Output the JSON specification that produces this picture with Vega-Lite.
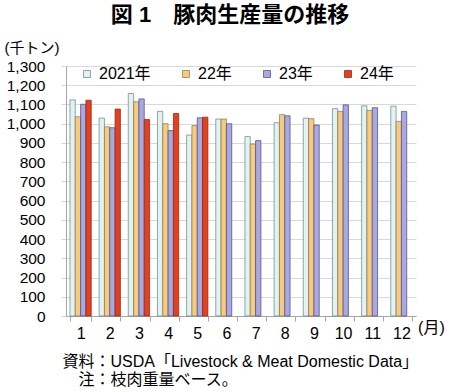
{
  "$schema": "https://vega.github.io/schema/vega-lite/v6.json",
  "width": 350,
  "height": 250,
  "autosize": {"type": "none"},
  "padding": {"left": 66, "top": 66, "right": 34, "bottom": 76},
  "background": "white",
  "config": {
    "font": "Liberation Sans, Noto Sans CJK JP",
    "view": {"stroke": null}
  },
  "title": {
    "text": "図 1　豚肉生産量の推移",
    "fontSize": 22,
    "fontWeight": "bold",
    "font": "Liberation Sans, Noto Sans CJK JP",
    "anchor": "middle",
    "dx": -11,
    "offset": 13,
    "color": "#000000"
  },
  "layer": [
    {
      "data": {
        "values": [
          {"month": "1", "year": "2021年", "value": 1124},
          {"month": "1", "year": "22年", "value": 1036},
          {"month": "1", "year": "23年", "value": 1101},
          {"month": "1", "year": "24年", "value": 1122},
          {"month": "2", "year": "2021年", "value": 1029},
          {"month": "2", "year": "22年", "value": 984},
          {"month": "2", "year": "23年", "value": 979},
          {"month": "2", "year": "24年", "value": 1076},
          {"month": "3", "year": "2021年", "value": 1157},
          {"month": "3", "year": "22年", "value": 1114},
          {"month": "3", "year": "23年", "value": 1129},
          {"month": "3", "year": "24年", "value": 1022},
          {"month": "4", "year": "2021年", "value": 1064},
          {"month": "4", "year": "22年", "value": 1000},
          {"month": "4", "year": "23年", "value": 964},
          {"month": "4", "year": "24年", "value": 1053},
          {"month": "5", "year": "2021年", "value": 941},
          {"month": "5", "year": "22年", "value": 990},
          {"month": "5", "year": "23年", "value": 1031},
          {"month": "5", "year": "24年", "value": 1034},
          {"month": "6", "year": "2021年", "value": 1024},
          {"month": "6", "year": "22年", "value": 1024},
          {"month": "6", "year": "23年", "value": 1000},
          {"month": "7", "year": "2021年", "value": 933},
          {"month": "7", "year": "22年", "value": 894},
          {"month": "7", "year": "23年", "value": 912},
          {"month": "8", "year": "2021年", "value": 1005},
          {"month": "8", "year": "22年", "value": 1047},
          {"month": "8", "year": "23年", "value": 1041},
          {"month": "9", "year": "2021年", "value": 1029},
          {"month": "9", "year": "22年", "value": 1026},
          {"month": "9", "year": "23年", "value": 993},
          {"month": "10", "year": "2021年", "value": 1078},
          {"month": "10", "year": "22年", "value": 1064},
          {"month": "10", "year": "23年", "value": 1098},
          {"month": "11", "year": "2021年", "value": 1093},
          {"month": "11", "year": "22年", "value": 1069},
          {"month": "11", "year": "23年", "value": 1083},
          {"month": "12", "year": "2021年", "value": 1091},
          {"month": "12", "year": "22年", "value": 1012},
          {"month": "12", "year": "23年", "value": 1064}
        ]
      },
      "mark": {"type": "bar", "strokeWidth": 0.7},
      "encoding": {
        "x": {
          "field": "month",
          "type": "nominal",
          "scale": {"domain": ["1","2","3","4","5","6","7","8","9","10","11","12"], "paddingInner": 0.27, "paddingOuter": 0.135},
          "axis": {
            "labelAngle": 0,
            "labelFontSize": 16,
            "labelColor": "#000000",
            "labelPadding": 4,
            "tickBand": "extent",
            "tickSize": 5,
            "tickColor": "#a6a6a6",
            "domainColor": "#a6a6a6",
            "grid": false,
            "title": ["資料：USDA「Livestock & Meat Domestic Data」", "\u200b\u3000注：枝肉重量ベース。"],
            "titleFontSize": 16,
            "titleFontWeight": "normal",
            "titleColor": "#000000",
            "titleAlign": "left",
            "titleAnchor": "start",
            "titleBaseline": "top",
            "titleX": -4,
            "titleY": 37,
            "titleLineHeight": 18
          }
        },
        "xOffset": {
          "field": "year",
          "type": "nominal",
          "scale": {"domain": ["2021年", "22年", "23年", "24年"], "paddingInner": 0, "paddingOuter": 0}
        },
        "y": {
          "field": "value",
          "type": "quantitative",
          "scale": {"domain": [0, 1300], "nice": false},
          "axis": {
            "values": [0,100,200,300,400,500,600,700,800,900,1000,1100,1200,1300],
            "format": ",d",
            "labelOverlap": false,
            "labelFontSize": 15.5,
            "labelColor": "#000000",
            "labelPadding": 16,
            "tickSize": 5,
            "tickColor": "#d9d9d9",
            "gridColor": "#d9d9d9",
            "domainColor": "#a6a6a6",
            "title": "(千トン)",
            "titleAngle": 0,
            "titleAlign": "left",
            "titleBaseline": "middle",
            "titleX": -62,
            "titleY": -19,
            "titleFontSize": 15,
            "titleFontWeight": "normal",
            "titleColor": "#000000"
          }
        },
        "fill": {
          "field": "year",
          "type": "nominal",
          "scale": {"domain": ["2021年", "22年", "23年", "24年"], "range": ["#e4f1f1", "#f7cb7e", "#a9a9de", "#e2401f"]},
          "legend": {
            "title": null,
            "orient": "none",
            "legendX": 13,
            "legendY": 0,
            "direction": "horizontal",
            "columns": 4,
            "gridAlign": "none",
            "columnPadding": 27,
            "symbolType": "square",
            "symbolSize": 49,
            "symbolStrokeWidth": 0.7,
            "labelFontSize": 16,
            "labelColor": "#000000",
            "labelOffset": 4
          }
        },
        "stroke": {
          "field": "year",
          "type": "nominal",
          "scale": {"domain": ["2021年", "22年", "23年", "24年"], "range": ["#5f8585", "#8a7450", "#45458c", "#8a1f0c"]},
          "legend": null
        }
      }
    },
    {
      "data": {"values": [{"month": "12", "label": "(月)"}]},
      "mark": {"type": "text", "dx": 30, "dy": 12, "fontSize": 16, "color": "#000000", "baseline": "middle"},
      "encoding": {
        "x": {
          "field": "month",
          "type": "nominal",
          "axis": {
            "labelAngle": 0,
            "labelFontSize": 16,
            "labelColor": "#000000",
            "labelPadding": 4,
            "tickBand": "extent",
            "tickSize": 5,
            "tickColor": "#a6a6a6",
            "domainColor": "#a6a6a6",
            "grid": false,
            "title": ["資料：USDA「Livestock & Meat Domestic Data」", "\u200b\u3000注：枝肉重量ベース。"],
            "titleFontSize": 16,
            "titleFontWeight": "normal",
            "titleColor": "#000000",
            "titleAlign": "left",
            "titleAnchor": "start",
            "titleBaseline": "top",
            "titleX": -4,
            "titleY": 37,
            "titleLineHeight": 18
          }
        },
        "y": {
          "datum": 0,
          "type": "quantitative",
          "axis": {
            "values": [0,100,200,300,400,500,600,700,800,900,1000,1100,1200,1300],
            "format": ",d",
            "labelOverlap": false,
            "labelFontSize": 15.5,
            "labelColor": "#000000",
            "labelPadding": 16,
            "tickSize": 5,
            "tickColor": "#d9d9d9",
            "gridColor": "#d9d9d9",
            "domainColor": "#a6a6a6",
            "title": "(千トン)",
            "titleAngle": 0,
            "titleAlign": "left",
            "titleBaseline": "middle",
            "titleX": -62,
            "titleY": -19,
            "titleFontSize": 15,
            "titleFontWeight": "normal",
            "titleColor": "#000000"
          }
        },
        "text": {"field": "label"}
      }
    }
  ]
}
